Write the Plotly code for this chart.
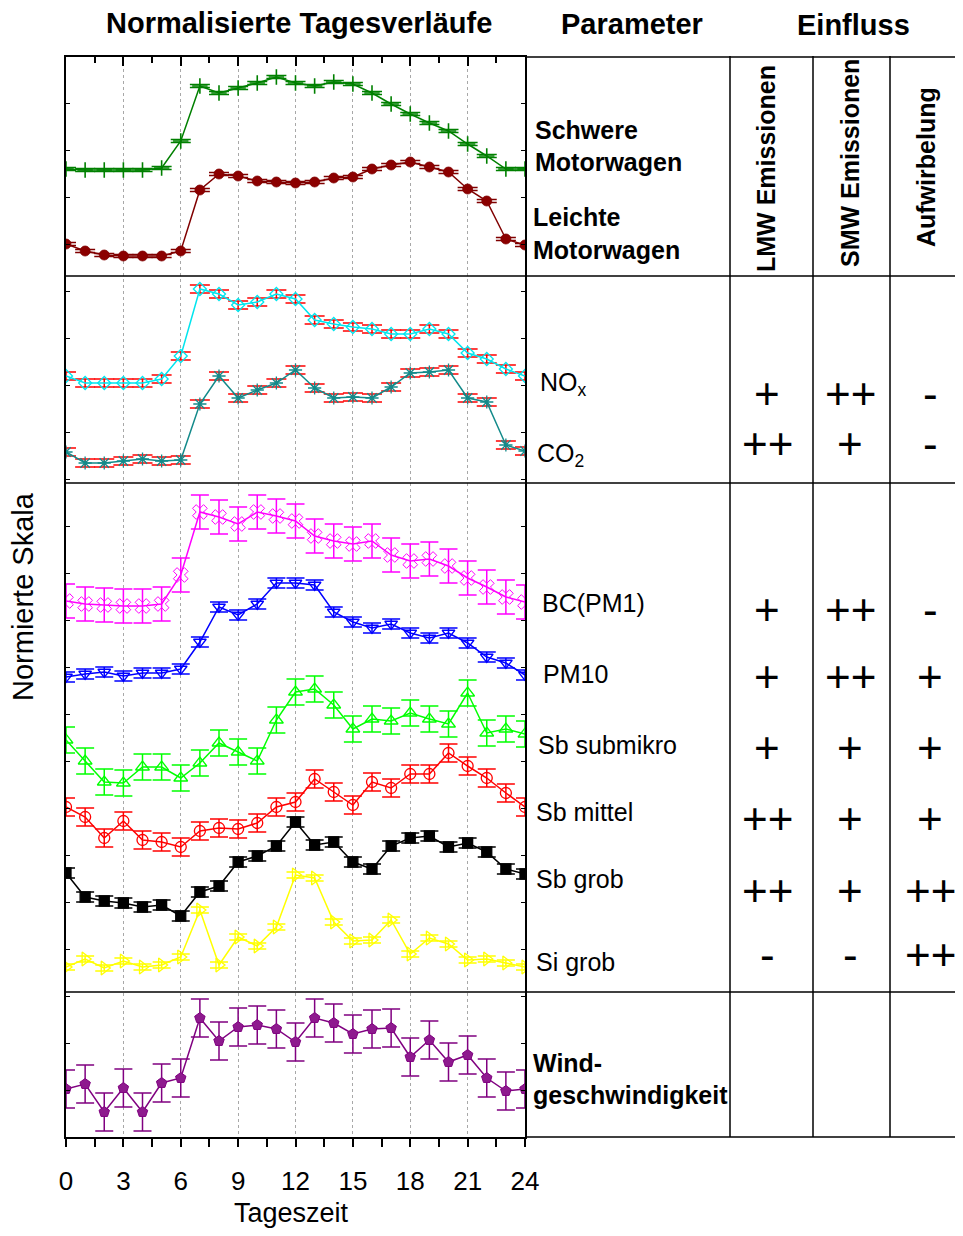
import plotly.graph_objects as go

# The page adds an 8 px body margin; the figure is sized so that it fits the
# 963x1236 window without scrollbars.
OFF = 8
W, H = 963 - 2 * OFF, 1236 - 2 * OFF
FONT = "Liberation Sans, Arial, sans-serif"

# ---------------- data (normalised scale) ----------------
hours = list(range(25))

schwere = [968, 967, 967, 967, 967, 969, 996, 1051, 1044, 1049, 1054, 1060, 1054,
           1051, 1055, 1053, 1044, 1033, 1023, 1014, 1006, 993, 981, 968, 968]
leichte = [893, 886, 882, 881, 881, 881, 886, 947, 963, 961, 956, 955, 954,
           955, 959, 960, 968, 972, 975, 970, 965, 948, 936, 898, 892]
nox = [761, 754, 754, 754, 754, 758, 781, 848, 843, 832, 835, 843, 838,
       817, 813, 810, 808, 803, 803, 808, 803, 784, 778, 768, 761]
co2 = [685, 674, 674, 676, 678, 676, 677, 733, 761, 739, 747, 754, 767,
       749, 739, 740, 739, 750, 764, 765, 767, 739, 735, 692, 686]
bc_pm1 = [536, 533, 532, 531, 531, 533, 562, 625, 620, 613, 625, 621, 616,
          601, 596, 593, 596, 582, 576, 578, 571, 559, 550, 540, 535]
pm10 = [460, 463, 465, 461, 464, 464, 468, 495, 530, 522, 533, 554, 554,
        552, 525, 515, 509, 513, 504, 499, 504, 494, 480, 474, 462]
sb_submikro = [397, 376, 355, 354, 370, 370, 359, 374, 394, 385, 376, 417, 445,
               448, 432, 408, 418, 416, 424, 418, 413, 444, 404, 408, 403]
sb_mittel = [330, 320, 299, 316, 297, 295, 290, 306, 309, 308, 314, 330, 335,
             358, 345, 332, 355, 349, 363, 363, 384, 371, 359, 344, 330]
sb_grob = [264, 240, 236, 234, 230, 232, 221, 245, 251, 275, 281, 291, 315,
           292, 295, 275, 268, 291, 299, 301, 290, 294, 285, 268, 263]
si_grob = [170, 178, 169, 176, 170, 172, 180, 227, 172, 200, 191, 210, 262,
           259, 215, 196, 197, 217, 183, 199, 193, 177, 178, 174, 170]
wind = [48, 53, 25, 49, 25, 54, 59, 119, 96, 110, 112, 108, 95,
        119, 114, 103, 108, 109, 80, 97, 75, 82, 59, 46, 48]

# error half-widths (same units)
err_schwere, err_leichte = 1.5, 1.5
err_nox, err_co2 = 4, 4
err_bc, err_pm10 = 17, 5
err_sbsub, err_sbmit, err_sbgrob, err_sigrob = 13, 9, 5, 3
err_wind = 19

# panel separators on the normalised scale
panel_breaks = [861, 654, 145]

x_ticks = [0, 3, 6, 9, 12, 15, 18, 21, 24]
x_minor = [1.5, 4.5, 7.5, 10.5, 13.5, 16.5, 19.5, 22.5]

# table
rows = ["NO<sub>x</sub>", "CO<sub>2</sub>", "BC(PM1)", "PM10", "Sb submikro",
        "Sb mittel", "Sb grob", "Si grob"]
lmw = ["+", "++", "+", "+", "+", "++", "++", "-"]
smw = ["++", "+", "++", "++", "+", "+", "+", "-"]
aufw = ["-", "-", "-", "+", "+", "+", "++", "++"]
col_headers = ["LMW Emissionen", "SMW Emissionen", "Aufwirbelung"]


# ---------------- layout helpers (window pixel -> paper) ----------------
def px(x):
    return (x - OFF) / W


def py(y):
    return 1 - (y - OFF) / H


X0, X1 = 66, 525
Y0, Y1 = 57, 1137

fig = go.Figure()


def add_series(y, color, symbol, size, err, err_color=None, line_w=1.5,
               mline=1.3, fill=None, cap=9):
    fig.add_trace(go.Scatter(
        x=hours, y=y, mode="lines+markers",
        line=dict(color=color, width=line_w),
        marker=dict(symbol=symbol, size=size,
                    color=fill if fill else color,
                    line=dict(color=color, width=mline)),
        error_y=dict(type="constant", value=err, color=err_color or color,
                     thickness=1.5, width=cap),
        showlegend=False, hoverinfo="skip"))


# panel 1
add_series(schwere, "#008000", "cross-thin", 11, err_schwere, cap=10, mline=1.6)
add_series(leichte, "#800000", "circle", 10, err_leichte, cap=10, fill="#8B0000",
           mline=0.8)
# panel 2
add_series(nox, "#00E5EE", "diamond-open", 10, err_nox, err_color="#FF0000", cap=10)
add_series(co2, "#138A8A", "asterisk-open", 11, err_co2, err_color="#FF0000", cap=10)
# panel 3
add_series(bc_pm1, "#FF00FF", "x-open", 13, err_bc, mline=1)
add_series(pm10, "#0000FF", "triangle-down-open", 11, err_pm10)
add_series(sb_submikro, "#00FF00", "triangle-up-open", 12, err_sbsub)
add_series(sb_mittel, "#FF0000", "circle-open", 11, err_sbmit)
add_series(sb_grob, "#000000", "square", 10, err_sbgrob)
add_series(si_grob, "#FFFF00", "triangle-right-open", 12, err_sigrob)
# panel 4
add_series(wind, "#800080", "pentagon", 11, err_wind, fill="#8E1A8E", mline=1)

# helper trace so that the top tick axis is drawn
fig.add_trace(go.Scatter(x=[0], y=[0], xaxis="x2", yaxis="y", mode="markers",
                         marker=dict(opacity=0), showlegend=False,
                         hoverinfo="skip"))

fig.update_layout(
    width=W, height=H, autosize=False,
    margin=dict(l=0, r=0, t=0, b=0, pad=0, autoexpand=False),
    paper_bgcolor="white", plot_bgcolor="white",
    font=dict(family=FONT, color="black"),
    showlegend=False,
    xaxis=dict(
        domain=[px(X0), px(X1)], range=[0, 24], automargin=False,
        tickvals=x_ticks, ticks="outside", ticklen=8, tickwidth=1.5,
        tickcolor="black", tickfont=dict(size=26, family=FONT),
        ticklabelstandoff=12,
        showline=True, linecolor="black", linewidth=1.5, mirror=True,
        showgrid=True, gridcolor="#a8a8a8", griddash="dot", gridwidth=1,
        zeroline=False,
        minor=dict(tickvals=x_minor, ticks="outside", ticklen=8, tickwidth=1.5,
                   tickcolor="black", showgrid=False),
    ),
    xaxis2=dict(
        overlaying="x", side="top", matches="x", range=[0, 24],
        automargin=False,
        tickvals=x_ticks, ticks="inside", ticklen=9, tickwidth=1.5,
        tickcolor="black", showticklabels=False, showgrid=False,
        zeroline=False, showline=False,
        minor=dict(tickvals=x_minor, ticks="inside", ticklen=6, tickwidth=1.5,
                   tickcolor="black", showgrid=False),
    ),
    yaxis=dict(
        domain=[py(Y1), py(Y0)], range=[0, Y1 - Y0], automargin=False,
        tick0=0, dtick=47, ticks="inside", ticklen=4, tickwidth=1.2,
        tickcolor="black", showticklabels=False,
        showline=True, linecolor="black", linewidth=1.5, mirror="ticks",
        showgrid=False, zeroline=False,
    ),
)

# ---------------- table lines ----------------
shapes = []
LINE = dict(color="black", width=1.5)
for b in panel_breaks:
    yy = py(Y1 - b)
    shapes.append(dict(type="line", xref="paper", yref="paper",
                       x0=px(X0), x1=1, y0=yy, y1=yy, line=LINE, layer="above"))
shapes.append(dict(type="line", xref="paper", yref="paper", x0=px(X1), x1=1,
                   y0=py(57), y1=py(57), line=LINE, layer="above"))
shapes.append(dict(type="line", xref="paper", yref="paper", x0=px(X1), x1=1,
                   y0=py(1137), y1=py(1137), line=LINE, layer="above"))
for vx in [730, 813, 890]:
    shapes.append(dict(type="line", xref="paper", yref="paper", x0=px(vx),
                       x1=px(vx), y0=py(56), y1=py(1137), line=LINE,
                       layer="above"))
fig.update_layout(shapes=shapes)

# ---------------- texts ----------------
ann = []


def text(t, x, y, size, bold=False, xanchor="left", angle=0):
    ann.append(dict(text=f"<b>{t}</b>" if bold else t, x=px(x), y=py(y),
                    xref="paper", yref="paper", xanchor=xanchor,
                    yanchor="middle", showarrow=False, textangle=angle,
                    font=dict(size=size, family=FONT, color="black")))


text("Normalisierte Tagesverläufe", 299, 23, 29, True, "center")
text("Parameter", 632, 24, 29, True, "center")
text("Einfluss", 853, 25, 29, True, "center")
for h, cx, cy in zip(col_headers, [766, 850, 926], [169, 163, 167]):
    text(h, cx, cy, 25, True, "center", -90)

text("Schwere", 533, 130, 25, True)
text("Motorwagen", 533, 162, 25, True)
text("Leichte", 531, 217, 25, True)
text("Motorwagen", 531, 250, 25, True)
text("Wind-", 531, 1063, 25, True)
text("geschwindigkeit", 531, 1095, 25, True)

label_x = [538, 535, 540, 541, 536, 534, 534, 534]
label_y = [384, 455, 603, 674, 745, 812, 879, 962]
for r, lx, ly in zip(rows, label_x, label_y):
    text(r, lx, ly, 25)

sym_y = [393, 443, 609, 676, 747, 818, 890, 954]
for col, cx in zip([lmw, smw, aufw], [767, 850, 930]):
    for s, sy in zip(col, sym_y):
        text(s, cx, sy, 44, False, "center")

text("Normierte Skala", 23, 597, 29, False, "center", -90)
text("Tageszeit", 291, 1213, 27, False, "center")

fig.update_layout(annotations=ann)

fig.write_html("out.html")
